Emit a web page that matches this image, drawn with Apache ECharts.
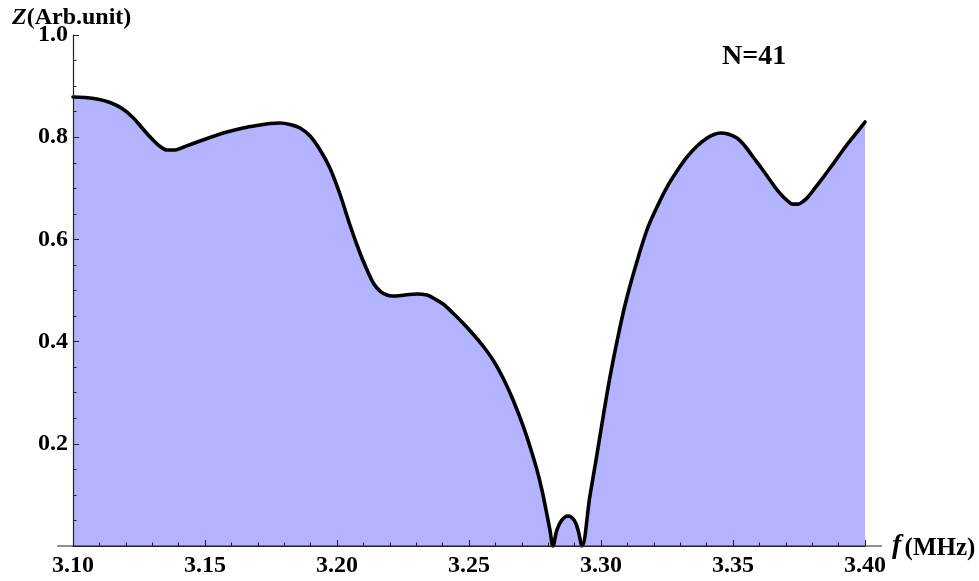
<!DOCTYPE html>
<html>
<head>
<meta charset="utf-8">
<script src="https://cdn.jsdelivr.net/npm/echarts@6/dist/echarts.min.js"></script>
<style>html,body{margin:0;padding:0;background:#fff;}#c{width:979px;height:581px;}</style>
</head>
<body>
<div id="c"></div>
<script>
const freq = [3.1000, 3.1045, 3.1091, 3.1140, 3.1186, 3.1227, 3.1265, 3.1303, 3.1330, 3.1356, 3.1386, 3.1420, 3.1455, 3.1519, 3.1583, 3.1644, 3.1708, 3.1746, 3.1784, 3.1822, 3.1860, 3.1898, 3.1936, 3.1973, 3.2011, 3.2049, 3.2087, 3.2114, 3.2140, 3.2163, 3.2189, 3.2212, 3.2258, 3.2303, 3.2341, 3.2364, 3.2402, 3.2439, 3.2477, 3.2515, 3.2553, 3.2591, 3.2629, 3.2667, 3.2705, 3.2735, 3.2758, 3.2777, 3.2792, 3.2807, 3.2818, 3.2833, 3.2852, 3.2875, 3.2898, 3.2913, 3.2928, 3.2958, 3.2985, 3.3011, 3.3034, 3.3061, 3.3091, 3.3129, 3.3174, 3.3212, 3.3250, 3.3288, 3.3326, 3.3364, 3.3402, 3.3428, 3.3451, 3.3481, 3.3515, 3.3545, 3.3576, 3.3610, 3.3640, 3.3667, 3.3689, 3.3708, 3.3727, 3.3746, 3.3765, 3.3784, 3.3811, 3.3841, 3.3879, 3.3917, 3.3958, 3.4000];
const zVal = [0.8787, 0.8777, 0.8748, 0.8679, 0.8562, 0.8386, 0.8160, 0.7945, 0.7818, 0.7750, 0.7750, 0.7808, 0.7877, 0.7994, 0.8102, 0.8180, 0.8239, 0.8268, 0.8278, 0.8249, 0.8180, 0.8023, 0.7750, 0.7397, 0.6888, 0.6282, 0.5734, 0.5401, 0.5127, 0.4990, 0.4912, 0.4892, 0.4912, 0.4932, 0.4912, 0.4853, 0.4736, 0.4560, 0.4364, 0.4149, 0.3914, 0.3640, 0.3288, 0.2857, 0.2350, 0.1880, 0.1480, 0.1080, 0.0700, 0.0300, 0.0000, 0.0313, 0.0509, 0.0587, 0.0509, 0.0313, 0.0000, 0.0978, 0.1800, 0.2622, 0.3307, 0.4012, 0.4716, 0.5440, 0.6184, 0.6634, 0.7025, 0.7339, 0.7613, 0.7828, 0.7984, 0.8053, 0.8082, 0.8063, 0.7984, 0.7828, 0.7613, 0.7378, 0.7162, 0.6967, 0.6840, 0.6750, 0.6690, 0.6690, 0.6740, 0.6830, 0.7010, 0.7210, 0.7476, 0.7750, 0.8023, 0.8297];
const xTickLabels = ['3.10', '3.15', '3.20', '3.25', '3.30', '3.35', '3.40'];
const yTickLabels = ['', '0.2', '0.4', '0.6', '0.8', '1.0'];
const annotation = 'N=41';

const FONT = "'Liberation Serif', 'DejaVu Serif', serif";
const chart = echarts.init(document.getElementById('c'));
const data = freq.map((f, i) => [f, zVal[i]]);

const annText = {
  type: 'text', left: 722, top: 43,
  style: { text: annotation, fontFamily: FONT, fontWeight: 'bold', fontSize: 28, fill: '#000' }
};
const yNameText = {
  type: 'text', left: 12, top: 6,
  style: {
    text: '{i|Z}{n|(Arb.unit)}',
    rich: {
      i: { fontFamily: FONT, fontStyle: 'italic', fontWeight: 'bold', fontSize: 24, fill: '#000' },
      n: { fontFamily: FONT, fontWeight: 'bold', fontSize: 24, fill: '#000' }
    }
  }
};

chart.setOption({
  animation: false,
  backgroundColor: '#fff',
  grid: { left: 73, right: 114, top: 35, bottom: 35, containLabel: false, outerBoundsMode: 'none' },
  xAxis: {
    type: 'value', min: 3.10, max: 3.40, interval: 0.05, z: 10,
    name: '{i|f} {n|(MHz)}', nameLocation: 'end', nameGap: 8,
    nameTextStyle: { padding: [6, 0, 0, 0], rich: {
      i: { fontFamily: FONT, fontStyle: 'italic', fontWeight: 'bold', fontSize: 28, color: '#000', padding: [0, 0, 6, 0] },
      n: { fontFamily: FONT, fontWeight: 'bold', fontSize: 25, color: '#000' } } },
    axisLine: { show: true, lineStyle: { color: '#222', width: 1.2 } },
    axisTick: { show: true, inside: true, length: 6, lineStyle: { color: '#222', width: 1 } },
    minorTick: { show: true, splitNumber: 5, length: 3.5, lineStyle: { color: '#222', width: 1 } },
    splitLine: { show: false },
    axisLabel: { margin: 8, fontFamily: FONT, fontWeight: 'bold', fontSize: 24, color: '#000',
      formatter: (v) => xTickLabels[Math.round((v - 3.10) / 0.05)] || '' }
  },
  yAxis: {
    type: 'value', min: 0, max: 1, interval: 0.2, z: 10,
    axisLine: { show: true, lineStyle: { color: '#222', width: 1.2 } },
    axisTick: { show: true, inside: true, length: 6, lineStyle: { color: '#222', width: 1 } },
    minorTick: { show: true, splitNumber: 4, length: 3.5, lineStyle: { color: '#222', width: 1 } },
    splitLine: { show: false },
    axisLabel: { margin: 5, fontFamily: FONT, fontWeight: 'bold', fontSize: 24, color: '#000',
      formatter: (v) => yTickLabels[Math.round(v / 0.2)] || '' }
  },
  series: [{
    type: 'line', data: data, smooth: 0.35, symbol: 'none',
    lineStyle: { color: '#000', width: 3.6, join: 'round', cap: 'round' },
    areaStyle: { color: '#b3b3ff', opacity: 1 },
    z: 1
  }],
  graphic: [annText, yNameText]
});

// extend the x axis line slightly past the plot area, as in the reference
const p0 = chart.convertToPixel({ gridIndex: 0 }, [3.10, 0]);
const p1 = chart.convertToPixel({ gridIndex: 0 }, [3.40, 0]);
chart.setOption({
  graphic: [annText, yNameText, {
    type: 'line', z: 10,
    shape: { x1: p0[0] - 16, y1: p0[1], x2: p1[0] + 17, y2: p1[1] },
    style: { stroke: '#222', lineWidth: 1.2 }
  }]
});
</script>
</body>
</html>
